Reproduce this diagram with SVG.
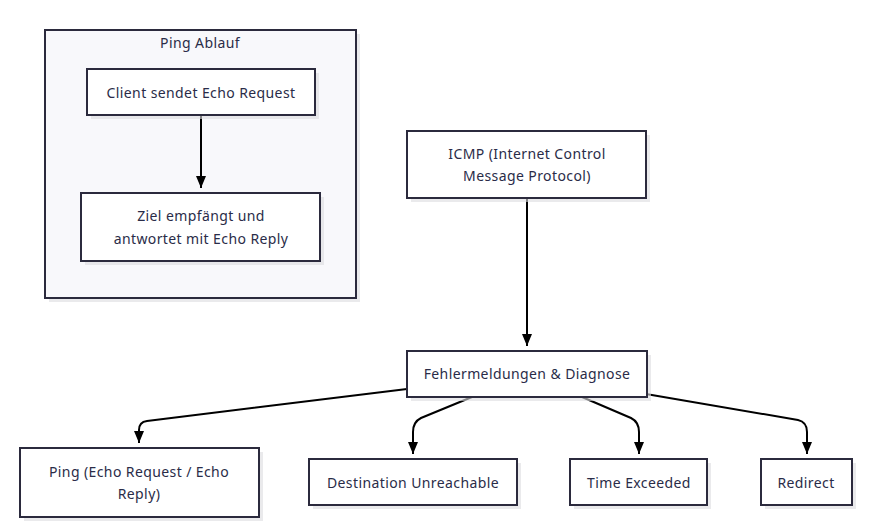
<svg xmlns="http://www.w3.org/2000/svg" width="881" height="529" viewBox="0 0 881 529">
<defs>
<style>
.box{fill:#ffffff;stroke:#2b2a3d;stroke-width:2}
.sh{fill:#dcdce0;opacity:0.6}
.cl{fill:#f8f8fb;stroke:#2b2a3d;stroke-width:2}
.t{font-family:"Noto Sans","Open Sans",sans-serif;font-size:14px;letter-spacing:0.4px;fill:#2a2c48;text-anchor:middle}
.e{fill:none;stroke:#000;stroke-width:2}
</style>
<marker id="ah" viewBox="0 0 12 10" refX="12" refY="5" markerWidth="12" markerHeight="10" markerUnits="userSpaceOnUse" orient="auto">
<path d="M0,0 L12,5 L0,10 Z" fill="#000"/>
</marker>
</defs>
<rect width="881" height="529" fill="#ffffff"/>
<g id="cluster-ping">
<rect class="sh" x="49" y="34" width="311" height="268"/>
<rect class="cl" x="45" y="30" width="311" height="268"/>
<text class="t" x="200" y="48">Ping Ablauf</text>
</g>
<g id="connectors">
<path class="e" d="M201,115 L201,188" marker-end="url(#ah)"/>
<path class="e" d="M527,198 L527,346" marker-end="url(#ah)"/>
<path class="e" d="M407,389 L147,421 Q139,422 139,430 L139,443" marker-end="url(#ah)"/>
<path class="e" d="M472,397 L421,418 Q413,422 413,432 L413,454" marker-end="url(#ah)"/>
<path class="e" d="M582,397 L631,418 Q639,422 639,432 L639,454" marker-end="url(#ah)"/>
<path class="e" d="M646,394 L798,420 Q807,422 807,432 L807,454" marker-end="url(#ah)"/>
</g>
<g id="n-client">
<rect class="sh" x="91" y="73" width="228" height="46"/>
<rect class="box" x="87" y="69" width="228" height="46"/>
<text class="t" x="201" y="98">Client sendet Echo Request</text>
</g>
<g id="n-ziel">
<rect class="sh" x="85" y="197" width="239" height="68"/>
<rect class="box" x="81" y="193" width="239" height="68"/>
<text class="t" x="201" y="221">Ziel empfängt und</text>
<text class="t" x="201" y="244">antwortet mit Echo Reply</text>
</g>
<g id="n-icmp">
<rect class="sh" x="411" y="135" width="239" height="67"/>
<rect class="box" x="407" y="131" width="239" height="67"/>
<text class="t" x="527" y="159">ICMP (Internet Control</text>
<text class="t" x="527" y="181">Message Protocol)</text>
</g>
<g id="n-fehler">
<rect class="sh" x="411" y="355" width="240" height="46"/>
<rect class="box" x="407" y="351" width="240" height="46"/>
<text class="t" x="527" y="379">Fehlermeldungen &amp; Diagnose</text>
</g>
<g id="n-ping">
<rect class="sh" x="24" y="452" width="239" height="69"/>
<rect class="box" x="20" y="448" width="239" height="69"/>
<text class="t" x="139" y="477">Ping (Echo Request / Echo</text>
<text class="t" x="139" y="499">Reply)</text>
</g>
<g id="n-dest">
<rect class="sh" x="313" y="463" width="208" height="46"/>
<rect class="box" x="309" y="459" width="208" height="46"/>
<text class="t" x="413" y="488">Destination Unreachable</text>
</g>
<g id="n-time">
<rect class="sh" x="574" y="463" width="137" height="46"/>
<rect class="box" x="570" y="459" width="137" height="46"/>
<text class="t" x="639" y="488">Time Exceeded</text>
</g>
<g id="n-redirect">
<rect class="sh" x="765" y="463" width="91" height="46"/>
<rect class="box" x="761" y="459" width="91" height="46"/>
<text class="t" x="806" y="488">Redirect</text>
</g>
</svg>
